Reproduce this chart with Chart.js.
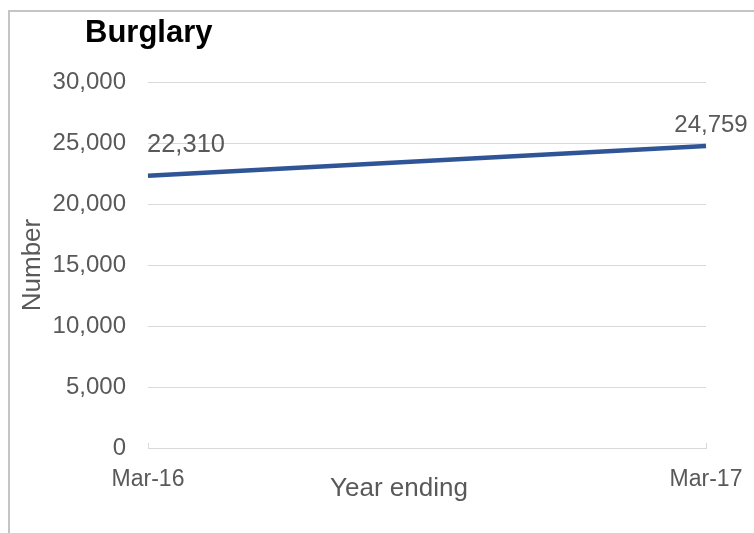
<!DOCTYPE html>
<html>
<head>
<meta charset="utf-8">
<script src="https://cdn.jsdelivr.net/npm/chart.js@4.4.1/dist/chart.umd.min.js"></script>
<style>
  html, body { margin: 0; padding: 0; background: #ffffff; }
  #wrap { position: relative; width: 754px; height: 533px; overflow: hidden; }
  #frame { position: absolute; left: 8px; top: 10px; width: 800px; height: 600px;
           border-left: 2px solid #c4c4c4; border-top: 2px solid #c4c4c4; pointer-events: none; }
  canvas { position: absolute; left: 0; top: 0; }
</style>
</head>
<body>
<div id="wrap">
  <canvas id="c" width="754" height="533"></canvas>
  <div id="frame"></div>
</div>
<script>
// ---- data ----
const chartTitle = "Burglary";
const categories = ["Mar-16", "Mar-17"];
const burglaryValues = [22310, 24759];
const yTickValues = [0, 5000, 10000, 15000, 20000, 25000, 30000];
const xAxisTitle = "Year ending";
const yAxisTitle = "Number";

const FONT = "'Liberation Sans', Arial, Helvetica, sans-serif";
const TEXT = "#595959";
const GRID = "#d9d9d9";
const LINE = "#2F5597";

const fmt = v => v.toLocaleString("en-GB");

const overlayPlugin = {
  id: "overlay",
  afterDatasetsDraw(chart) {
    const ctx = chart.ctx;
    ctx.save();
    // chart title
    ctx.fillStyle = "#000000";
    ctx.font = "bold 31px " + FONT;
    ctx.textAlign = "left";
    ctx.textBaseline = "alphabetic";
    ctx.fillText(chartTitle, 85, 42);

    // x axis title
    ctx.fillStyle = TEXT;
    ctx.font = "26px " + FONT;
    ctx.textAlign = "center";
    ctx.fillText(xAxisTitle, 399, 496);

    // data labels
    const meta = chart.getDatasetMeta(0);
    meta.data.forEach((pt, i) => {
      const txt = fmt(burglaryValues[i]);
      if (i === 0) {
        ctx.font = "25.5px " + FONT;
        ctx.textAlign = "left";
        ctx.fillText(txt, pt.x - 1, pt.y - 24);
      } else {
        ctx.font = "24px " + FONT;
        ctx.textAlign = "center";
        ctx.fillText(txt, pt.x + 5, pt.y - 14);
      }
    });
    ctx.restore();
  }
};

new Chart(document.getElementById("c"), {
  type: "line",
  data: {
    labels: categories,
    datasets: [{
      label: chartTitle,
      data: burglaryValues,
      borderColor: LINE,
      backgroundColor: LINE,
      borderWidth: 4.5,
      pointRadius: 0,
      tension: 0,
      fill: false
    }]
  },
  options: {
    responsive: false,
    animation: false,
    layout: { padding: { left: 0, right: 48, top: 82, bottom: 0 } },
    plugins: {
      legend: { display: false },
      tooltip: { enabled: false },
      title: { display: false }
    },
    scales: {
      x: {
        type: "category",
        offset: false,
        grid: { display: true, drawOnChartArea: false, drawTicks: true, tickLength: -5, color: GRID, lineWidth: 1 },
        border: { display: true, color: GRID, width: 1 },
        ticks: { color: TEXT, font: { family: FONT, size: 23 }, padding: 23, maxRotation: 0, autoSkip: false },
        afterFit(scale) { scale.height = 85; scale.paddingLeft = 0; scale.paddingRight = 0; }
      },
      y: {
        min: 0,
        max: 30000,
        afterBuildTicks(scale) { scale.ticks = yTickValues.map(v => ({ value: v })); },
        grid: { color: GRID, lineWidth: 1, drawTicks: false },
        border: { display: false },
        ticks: { color: TEXT, font: { family: FONT, size: 24 }, padding: 22, callback: v => fmt(v) },
        title: { display: true, text: yAxisTitle, color: TEXT, font: { family: FONT, size: 26 }, padding: { top: 17, bottom: 0 } },
        afterFit(scale) { scale.width = 148; scale.paddingTop = 0; scale.paddingBottom = 0; }
      }
    }
  },
  plugins: [overlayPlugin]
});
</script>
</body>
</html>
